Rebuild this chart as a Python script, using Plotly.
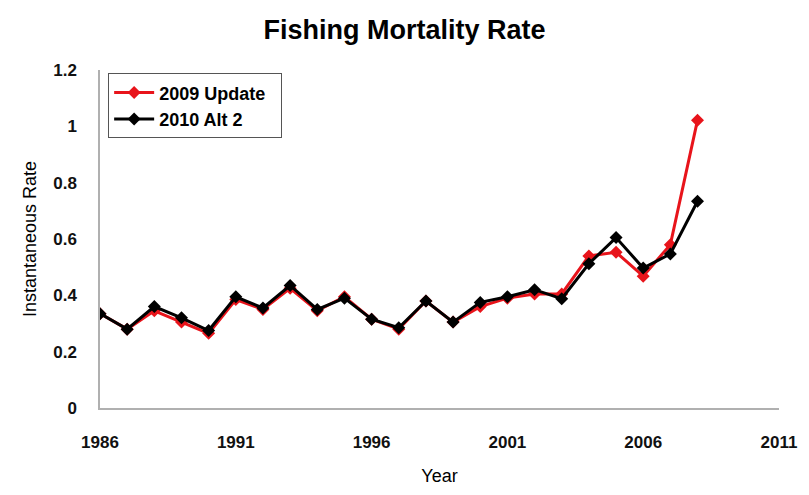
import plotly.graph_objects as go

years = list(range(1986, 2009))
update_2009 = [0.335, 0.28, 0.345, 0.305, 0.265, 0.385, 0.35, 0.425, 0.345, 0.395,
               0.315, 0.28, 0.38, 0.305, 0.36, 0.39, 0.405, 0.405, 0.54, 0.553,
               0.468, 0.58, 1.022]
alt2_2010 = [0.335, 0.28, 0.36, 0.32, 0.275, 0.395, 0.355, 0.435, 0.35, 0.39,
             0.315, 0.285, 0.38, 0.305, 0.375, 0.395, 0.42, 0.388, 0.512, 0.605,
             0.497, 0.547, 0.734]
x_ticks = [1986, 1991, 1996, 2001, 2006, 2011]
y_ticks = [0, 0.2, 0.4, 0.6, 0.8, 1, 1.2]
y_tick_text = ["0", "0.2", "0.4", "0.6", "0.8", "1", "1.2"]

FONT = "Liberation Sans, Arial, sans-serif"

fig = go.Figure()
fig.add_trace(go.Scatter(
    x=years, y=update_2009, name="<b>2009 Update</b>  ", mode="lines+markers",
    line=dict(color="#e8141b", width=3),
    marker=dict(symbol="diamond", size=10, color="#e8141b"),
))
fig.add_trace(go.Scatter(
    x=years, y=alt2_2010, name="<b>2010 Alt 2</b>", mode="lines+markers",
    line=dict(color="#000000", width=3),
    marker=dict(symbol="diamond", size=10, color="#000000"),
))

fig.update_layout(
    width=809, height=495,
    margin=dict(l=100, r=24, t=70, b=85),
    paper_bgcolor="white", plot_bgcolor="white",
    title=dict(text="<b>Fishing Mortality Rate</b>", x=0.5, xanchor="center",
               y=0.94, yanchor="middle",
               font=dict(family=FONT, size=27, color="#000000")),
    font=dict(family=FONT, color="#000000"),
    showlegend=True,
    legend=dict(x=0.012, y=0.99, xanchor="left", yanchor="top",
                bordercolor="#555555", borderwidth=1, bgcolor="white",
                font=dict(family=FONT, size=18, color="#000000"),
                itemwidth=40),
    xaxis=dict(range=[1986, 2011], tickvals=x_ticks,
               ticktext=[f"<b>{v}</b>" for v in x_ticks],
               showgrid=False, zeroline=False, showline=True,
               linecolor="#b0b0b0", linewidth=1.5, ticks="",
               ticklabelstandoff=18,
               tickfont=dict(family=FONT, size=17, color="#111111"),
               title=dict(text="Year", font=dict(family=FONT, size=18), standoff=18)),
    yaxis=dict(range=[0, 1.2], tickvals=y_ticks,
               ticktext=[f"<b>{t}</b>" for t in y_tick_text],
               showgrid=False, zeroline=False, showline=True,
               linecolor="#b0b0b0", linewidth=1.5, ticks="",
               ticklabelstandoff=18,
               tickfont=dict(family=FONT, size=17, color="#111111"),
               title=dict(text="Instantaneous Rate", font=dict(family=FONT, size=18),
                          standoff=12)),
)

fig.write_html("out.html")
